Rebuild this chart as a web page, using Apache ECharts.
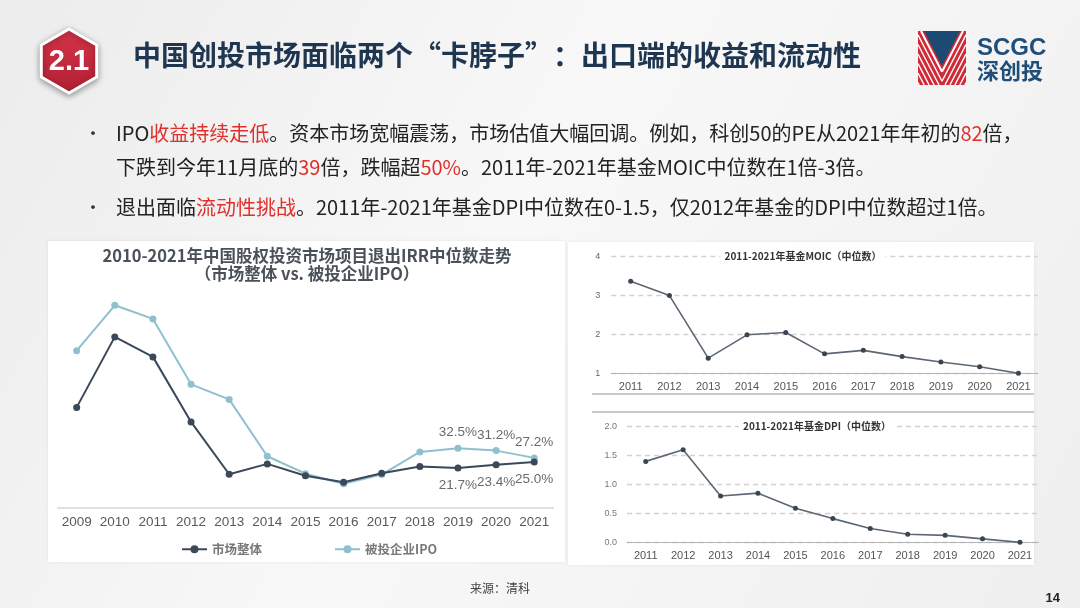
<!DOCTYPE html>
<html><head><meta charset="utf-8">
<script src="https://cdn.jsdelivr.net/npm/echarts@6/dist/echarts.min.js"></script>
<style>html,body{margin:0;padding:0;background:#f4f4f4}#c{width:1080px;height:608px}</style>
</head><body><div id="c"></div>
<script>
// ---------- data ----------
const irrYears = ['2009','2010','2011','2012','2013','2014','2015','2016','2017','2018','2019','2020','2021'];
const irrMarket = [55.0, 93.8, 82.8, 47.0, 18.2, 23.9, 17.4, 13.8, 18.7, 22.4, 21.7, 23.4, 25.0];
const irrIPO    = [86.2, 111.2, 103.7, 67.7, 59.4, 28.1, 18.5, 13.0, 18.0, 30.5, 32.5, 31.2, 27.2];
const irrLabelFrom = 10;
const fundYears = ['2011','2012','2013','2014','2015','2016','2017','2018','2019','2020','2021'];
const moic = [3.37, 3.0, 1.39, 1.99, 2.05, 1.50, 1.59, 1.43, 1.29, 1.17, 1.0];
const dpi  = [1.40, 1.60, 0.80, 0.85, 0.59, 0.41, 0.24, 0.14, 0.12, 0.06, 0.0];
const seriesNames = ['市场整体', '被投企业IPO'];

// ---------- chart ----------
const CJK = '"Noto Sans CJK SC", "Noto Sans", sans-serif';
const SANS = '"Liberation Sans", Arial, sans-serif';
const chart = echarts.init(document.getElementById('c'));

const withLabels = (arr) => arr.map((v, i) => i >= irrLabelFrom ? {value: v, label: {show: true}} : v);

// badge hexagon
const hexPts = [];
for (let k = 0; k < 6; k++) {
  const a = (-90 + 60 * k) * Math.PI / 180;
  hexPts.push([69 + 32 * Math.cos(a), 61 + 32 * Math.sin(a)]);
}
// logo stripes, clipped to the logo square
const LX0 = 918, LY0 = 31, LX1 = 966, LY1 = 85;
function clipSeg(x1, y1, x2, y2) {
  let t0 = 0, t1 = 1;
  const dx = x2 - x1, dy = y2 - y1;
  const p = [-dx, dx, -dy, dy], q = [x1 - LX0, LX1 - x1, y1 - LY0, LY1 - y1];
  for (let i = 0; i < 4; i++) {
    if (p[i] === 0) { if (q[i] < 0) return null; continue; }
    const r = q[i] / p[i];
    if (p[i] < 0) { if (r > t1) return null; if (r > t0) t0 = r; }
    else { if (r < t0) return null; if (r < t1) t1 = r; }
  }
  return {x1: x1 + t0 * dx, y1: y1 + t0 * dy, x2: x1 + t1 * dx, y2: y1 + t1 * dy};
}
const stripes = [];
[2, 7, 12, 17, 22, 27, 32].forEach(d => {
  const apex = [942, 68 + d * 36 / 19];
  [[923 - d, 31], [961 + d, 31]].forEach(s => {
    const c = clipSeg(s[0], s[1], apex[0], apex[1]);
    if (c) stripes.push({type: 'line', z: 7, shape: c,
      style: {stroke: '#ffffff', lineWidth: d === 2 ? 2 : 1.4}});
  });
});

const red = '#e0302c';
const bulletRich = {n: {fill: '#222', font: '20px ' + CJK}, r: {fill: red, font: '20px ' + CJK}};
chart.setOption({
  backgroundColor: new echarts.graphic.LinearGradient(0, 0, 1, 1, [
    {offset: 0, color: '#ececec'}, {offset: 0.45, color: '#f8f8f8'}, {offset: 1, color: '#efefef'}]),
  animation: false,
  graphic: [
    // cards
    {type: 'rect', z: -1, shape: {x: 48, y: 241, width: 517, height: 321},
      style: {fill: '#ffffff', shadowBlur: 3, shadowColor: 'rgba(0,0,0,0.08)'}},
    {type: 'rect', z: -1, shape: {x: 568, y: 242, width: 466, height: 323},
      style: {fill: '#ffffff', shadowBlur: 3, shadowColor: 'rgba(0,0,0,0.08)'}},
    {type: 'line', z: -1, shape: {x1: 592, y1: 394, x2: 1034, y2: 394}, style: {stroke: '#c9c9c9', lineWidth: 2}},
    {type: 'line', z: -1, shape: {x1: 592, y1: 412, x2: 1034, y2: 412}, style: {stroke: '#c9c9c9', lineWidth: 2}},
    // badge
    {type: 'polygon', z: 5, shape: {points: hexPts},
      style: {fill: new echarts.graphic.LinearGradient(0, 0, 0, 1, [{offset: 0, color: '#d8344b'}, {offset: 1, color: '#b01f33'}]),
        stroke: '#ffffff', lineWidth: 3, shadowBlur: 6, shadowColor: 'rgba(0,0,0,0.35)', shadowOffsetY: 2}},
    {type: 'text', z: 6, x: 69, y: 62, style: {text: '2.1', align: 'center', verticalAlign: 'middle',
      font: 'bold 29px ' + SANS, fill: '#ffffff'}},
    // header title
    {type: 'text', z: 6, x: 133, y: 55, style: {text: '中国创投市场面临两个“卡脖子”：出口端的收益和流动性',
      verticalAlign: 'middle', font: 'bold 28px ' + CJK, fill: '#1f3650'}},
    // logo
    {type: 'rect', z: 5, shape: {x: LX0, y: LY0, width: LX1 - LX0, height: LY1 - LY0}, style: {fill: '#cf2a36'}},
    {type: 'polygon', z: 6, shape: {points: [[924, 31], [960, 31], [942, 66]]}, style: {fill: '#1d4a72'}},
    ...stripes,
    {type: 'text', z: 6, x: 977, y: 48, style: {text: 'SCGC', verticalAlign: 'middle', font: 'bold 24px ' + SANS, fill: '#1f4e79'}},
    {type: 'text', z: 6, x: 977, y: 71, style: {text: '深创投', verticalAlign: 'middle', font: 'bold 22px ' + CJK, fill: '#1f4e79'}},
    // bullets
    {type: 'text', z: 6, x: 93, y: 133, style: {text: '•', align: 'center', verticalAlign: 'middle', font: '18px ' + CJK, fill: '#333'}},
    {type: 'text', z: 6, x: 93, y: 207, style: {text: '•', align: 'center', verticalAlign: 'middle', font: '18px ' + CJK, fill: '#333'}},
    {type: 'text', z: 6, x: 116, y: 133, style: {
      text: '{n|IPO}{r|收益持续走低}{n|。资本市场宽幅震荡，市场估值大幅回调。例如，科创50的PE从2021年年初的}{r|82}{n|倍，}',
      verticalAlign: 'middle', font: '20px ' + CJK, fill: '#222', rich: bulletRich}},
    {type: 'text', z: 6, x: 116, y: 167, style: {
      text: '{n|下跌到今年11月底的}{r|39}{n|倍，跌幅超}{r|50%}{n|。2011年-2021年基金MOIC中位数在1倍-3倍。}',
      verticalAlign: 'middle', font: '20px ' + CJK, fill: '#222', rich: bulletRich}},
    {type: 'text', z: 6, x: 116, y: 207, style: {
      text: '{n|退出面临}{r|流动性挑战}{n|。2011年-2021年基金DPI中位数在0-1.5，仅2012年基金的DPI中位数超过1倍。}',
      verticalAlign: 'middle', font: '20px ' + CJK, fill: '#222', rich: bulletRich}},
    // chart titles
    {type: 'text', z: 10, x: 307, y: 256, style: {text: '2010-2021年中国股权投资市场项目退出IRR中位数走势',
      align: 'center', verticalAlign: 'middle', font: 'bold 16.5px ' + CJK, fill: '#4b5159'}},
    {type: 'text', z: 10, x: 307, y: 274, style: {text: '（市场整体 vs. 被投企业IPO）',
      align: 'center', verticalAlign: 'middle', font: 'bold 16.5px ' + CJK, fill: '#4b5159'}},
    {type: 'text', z: 10, x: 803, y: 256, style: {text: '2011-2021年基金MOIC（中位数）',
      align: 'center', verticalAlign: 'middle', font: 'bold 10px ' + CJK, fill: '#333',
      backgroundColor: '#ffffff', padding: [1, 4]}},
    {type: 'text', z: 10, x: 817, y: 426, style: {text: '2011-2021年基金DPI（中位数）',
      align: 'center', verticalAlign: 'middle', font: 'bold 10px ' + CJK, fill: '#333',
      backgroundColor: '#ffffff', padding: [1, 4]}},
    // footer
    {type: 'text', z: 6, x: 470, y: 588, style: {text: '来源：清科', verticalAlign: 'middle', font: '12px ' + CJK, fill: '#444'}},
    {type: 'text', z: 6, x: 1060, y: 598, style: {text: '14', align: 'right', verticalAlign: 'middle', font: 'bold 13px ' + SANS, fill: '#222'}}
  ],
  legend: {
    left: 176, top: 538, itemWidth: 25, itemHeight: 10, itemGap: 72,
    data: seriesNames,
    textStyle: {fontFamily: CJK, fontSize: 12.5, color: '#777', fontWeight: 'bold'}
  },
  grid: [
    {left: 57.6, width: 495.7, top: 289.3, height: 218},
    {left: 611.3, width: 426.5, top: 256.7, height: 116.6},
    {left: 627, width: 411.7, top: 426.7, height: 115.6}
  ],
  xAxis: [
    {type: 'category', gridIndex: 0, data: irrYears,
      axisLine: {lineStyle: {color: '#d6d6d6', width: 1.5}}, axisTick: {show: false},
      axisLabel: {interval: 0, fontFamily: SANS, fontSize: 13.5, color: '#595959', margin: 8}},
    {type: 'category', gridIndex: 1, data: fundYears,
      axisLine: {lineStyle: {color: '#b5b5b5'}}, axisTick: {inside: true, length: 4, lineStyle: {color: '#b5b5b5'}},
      axisLabel: {interval: 0, fontFamily: SANS, fontSize: 11, color: '#555', margin: 8}},
    {type: 'category', gridIndex: 2, data: fundYears,
      axisLine: {lineStyle: {color: '#b5b5b5'}}, axisTick: {inside: true, length: 4, lineStyle: {color: '#b5b5b5'}},
      axisLabel: {interval: 0, fontFamily: SANS, fontSize: 11, color: '#555', margin: 8}}
  ],
  yAxis: [
    {type: 'value', gridIndex: 0, min: 0, max: 120, show: false},
    {type: 'value', gridIndex: 1, min: 1, max: 4, interval: 1,
      axisLine: {show: false}, axisTick: {show: false},
      axisLabel: {fontFamily: SANS, fontSize: 9, color: '#666', margin: 11},
      splitLine: {lineStyle: {color: '#d2d2d2', type: [5, 4], width: 1.3}}},
    {type: 'value', gridIndex: 2, min: 0, max: 2, interval: 0.5,
      axisLine: {show: false}, axisTick: {show: false},
      axisLabel: {fontFamily: SANS, fontSize: 9, color: '#777', margin: 10, formatter: v => v.toFixed(1)},
      splitLine: {lineStyle: {color: '#d2d2d2', type: [5, 4], width: 1.3}}}
  ],
  series: [
    {name: seriesNames[0], type: 'line', xAxisIndex: 0, yAxisIndex: 0, data: withLabels(irrMarket),
      symbol: 'circle', symbolSize: 7, lineStyle: {color: '#3a4858', width: 2}, itemStyle: {color: '#3a4858'},
      label: {show: false, position: 'bottom', distance: 7, fontFamily: SANS, fontSize: 13.5, color: '#6a6a6a',
        formatter: p => p.value.toFixed(1) + '%'}, z: 3},
    {name: seriesNames[1], type: 'line', xAxisIndex: 0, yAxisIndex: 0, data: withLabels(irrIPO),
      symbol: 'circle', symbolSize: 7, lineStyle: {color: '#8fc0cf', width: 2}, itemStyle: {color: '#8fc0cf'},
      label: {show: false, position: 'top', distance: 5, fontFamily: SANS, fontSize: 13.5, color: '#6a6a6a',
        formatter: p => p.value.toFixed(1) + '%'}, z: 2},
    {name: 'MOIC', type: 'line', xAxisIndex: 1, yAxisIndex: 1, data: moic,
      symbol: 'circle', symbolSize: 5, lineStyle: {color: '#5c6772', width: 1.6}, itemStyle: {color: '#3b4550'}},
    {name: 'DPI', type: 'line', xAxisIndex: 2, yAxisIndex: 2, data: dpi,
      symbol: 'circle', symbolSize: 5, lineStyle: {color: '#5c6772', width: 1.6}, itemStyle: {color: '#3b4550'}}
  ]
});
</script>
</body></html>
